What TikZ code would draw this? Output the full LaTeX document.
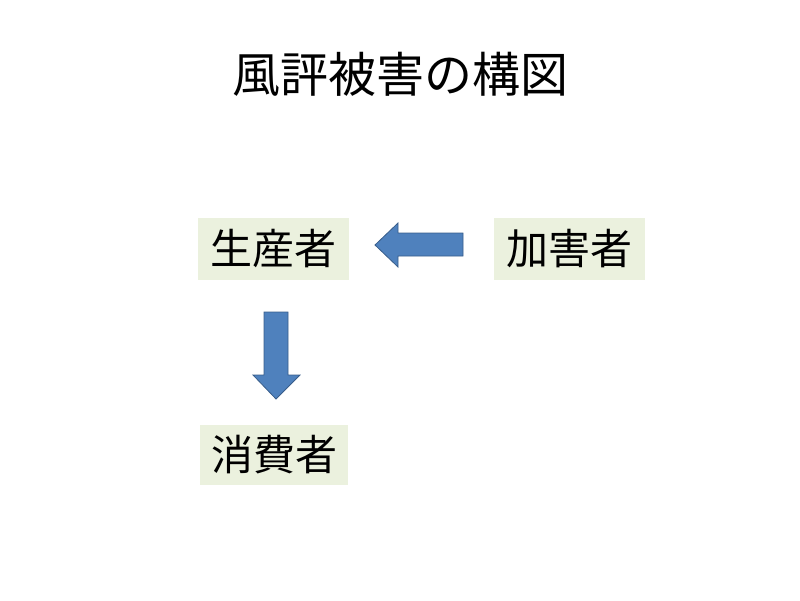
\documentclass[tikz,border=0pt]{standalone}
\usepackage{fontspec}
\setmainfont{Noto Sans CJK JP}
\usetikzlibrary{positioning}
\definecolor{boxfill}{HTML}{EBF1DE}
\definecolor{arrowfill}{HTML}{4F81BD}
\definecolor{arrowline}{HTML}{385D8A}
\tikzset{
  actor/.style={fill=boxfill, minimum width=151pt, minimum height=62pt, inner sep=0pt, font=\fontsize{42pt}{48pt}\selectfont},
  blockarrow/.style={fill=arrowfill, draw=arrowline, line width=0.8pt, line join=miter}
}
\begin{document}
\begin{tikzpicture}[x=1pt, y=-1pt]
      % Canvas
      \useasboundingbox (0,0) rectangle (800,600);
      % Title
      \node[font=\fontsize{48pt}{56pt}\selectfont] (title) at (400,74) {風評被害の構図};
      % Boxes
      \node[actor] (producer) at (273.5,249) {生産者};
      \node[actor] (offender) at (569.5,249) {加害者};
      \node[actor, minimum width=148pt, minimum height=60pt] (consumer) at (274,455) {消費者};
      % Arrow from offender to producer
      \draw[blockarrow] (463,233) -- (398,233) -- (398,223) -- (375,245)
        -- (398,267) -- (398,256) -- (463,256) -- cycle;
      % Arrow from producer to consumer
      \draw[blockarrow] (264,312) -- (288,312) -- (288,375) -- (300,375)
        -- (276,399) -- (253,375) -- (264,375) -- cycle;
\end{tikzpicture}
\end{document}
